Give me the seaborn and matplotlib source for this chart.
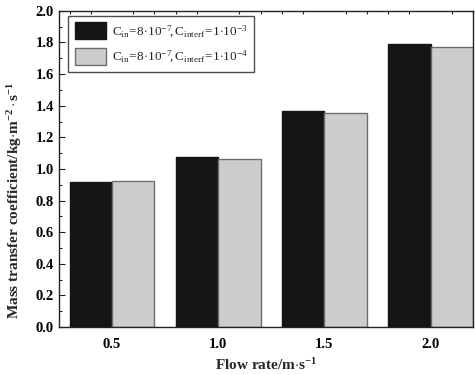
import pandas as pd
import matplotlib.pyplot as plt
import matplotlib.patches as mpatches
from matplotlib.ticker import MultipleLocator
import seaborn as sns

# values
flow_rates = ["0.5", "1.0", "1.5", "2.0"]
coef_1e3 = [0.915, 1.075, 1.365, 1.79]
coef_1e4 = [0.925, 1.065, 1.355, 1.77]
series = [
    r"$\mathrm{C_{in}\!=\!8\!\cdot\!10^{-7}\!,C_{interf}\!=\!1\!\cdot\!10^{-3}}$",
    r"$\mathrm{C_{in}\!=\!8\!\cdot\!10^{-7}\!,C_{interf}\!=\!1\!\cdot\!10^{-4}}$",
]

df = pd.DataFrame({
    "flow": flow_rates * 2,
    "coef": coef_1e3 + coef_1e4,
    "series": [series[0]] * 4 + [series[1]] * 4,
})

sns.set_style("ticks")
plt.rcParams["font.family"] = ["Liberation Serif", "DejaVu Serif"]
plt.rcParams["mathtext.fontset"] = "custom"
plt.rcParams["mathtext.rm"] = "Liberation Serif"
plt.rcParams["mathtext.bf"] = "Liberation Serif:bold"
plt.rcParams["mathtext.it"] = "Liberation Serif:italic"

fills = ["#151515", "#cdcdcd"]
edges = ["#151515", "#6e6e6e"]

fig = plt.figure(figsize=(4.75, 3.75), dpi=100)
ax = fig.add_axes([0.124, 0.128, 0.872, 0.843])
sns.barplot(data=df, x="flow", y="coef", hue="series", palette=fills,
            width=0.8, saturation=1, ax=ax, legend=False)

for i, bars in enumerate(ax.containers):
    for b in bars:
        b.set_edgecolor(edges[i])
        b.set_linewidth(1.0)

ax.set_xlim(-0.5, 3.4)
ax.set_ylim(0, 2.0)
ax.yaxis.set_major_locator(MultipleLocator(0.2))
ax.yaxis.set_minor_locator(MultipleLocator(0.1))
ax.xaxis.set_minor_locator(MultipleLocator(0.2))
ax.tick_params(which="both", direction="in", top=True, right=False,
               colors="#222222", labelcolor="black")
ax.tick_params(which="major", length=4, width=0.8)
ax.tick_params(which="minor", length=2.5, width=0.8)
ax.tick_params(axis="x", which="major", length=0)
for s in ax.spines.values():
    s.set_linewidth(1.0)
    s.set_color("#222222")

for lab in ax.get_xticklabels() + ax.get_yticklabels():
    lab.set_fontweight("bold")
    lab.set_fontsize(10.5)
ax.tick_params(axis="x", pad=8)

ax.set_xlabel(r"Flow rate/m$\cdot$s$^{\mathbf{-1}}$", fontsize=11,
              fontweight="bold")
ax.xaxis.set_label_coords(0.5, -0.095)
ax.set_ylabel(r"Mass transfer coefficient/kg$\cdot$m$^{\mathbf{-2}}\cdot$s$^{\mathbf{-1}}$",
              fontsize=11, fontweight="bold")
ax.yaxis.set_label_coords(-0.085, 0.40)

handles = [mpatches.Patch(facecolor=fills[i], edgecolor=edges[i], label=series[i])
           for i in range(2)]
leg = ax.legend(handles=handles, loc="upper left", bbox_to_anchor=(0.022, 0.985),
                fontsize=9.5, frameon=True, fancybox=False, handlelength=2.4,
                handleheight=1.6, handletextpad=0.4, borderpad=0.5,
                labelspacing=0.6, borderaxespad=0)
leg.get_frame().set_edgecolor("#222222")
leg.get_frame().set_linewidth(1.0)

fig.savefig("out.png", dpi=100)
